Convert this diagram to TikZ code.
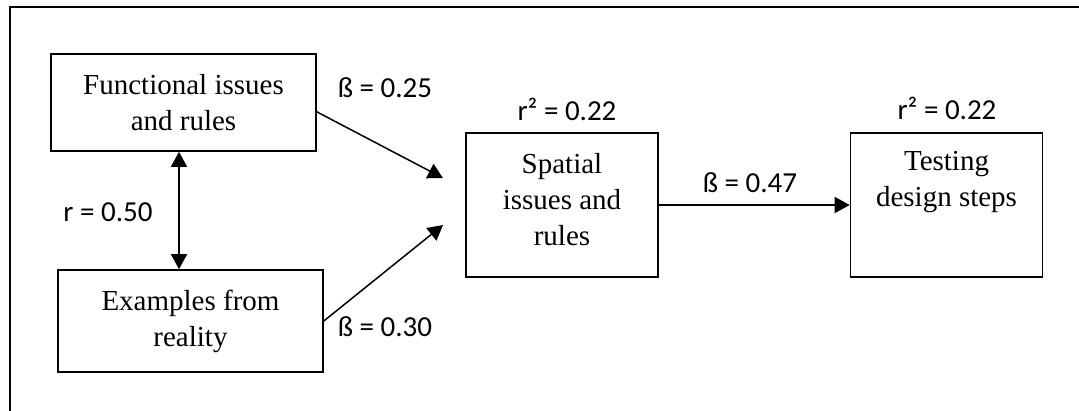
\documentclass[tikz,border=0pt]{standalone}
\usepackage{fontspec}
\setmainfont{Liberation Serif}
\newfontfamily\coeffont{Carlito}
\usetikzlibrary{arrows.meta,positioning}

\begin{document}
\begin{tikzpicture}[x=0.5pt,y=-0.5pt,font=\fontsize{14.5}{18}\selectfont]
        \tikzset{
            pathbox/.style={
                draw=black,
                fill=white,
                line width=0.8pt,
                inner sep=0pt,
                minimum width=132.5pt,
                minimum height=48.5pt,
                align=center
            },
            pathtall/.style={
                pathbox,
                minimum width=96pt,
                minimum height=72pt
            },
            coeflabel/.style={
                font=\coeffont\fontsize{14.5}{17}\selectfont,
                inner sep=0pt
            },
            pathdir/.style={
                -{Triangle[length=7.5pt,width=8pt]},
                draw=black,
                line width=0.75pt
            },
            pathcorr/.style={
                {Triangle[length=7.5pt,width=8pt]}-{Triangle[length=7.5pt,width=8pt]},
                draw=black,
                line width=0.75pt
            }
        }
        \useasboundingbox (0,0) rectangle (1079,411);

        % frame
        \draw[line width=0.8pt] (10,411) -- (10,7) -- (1079,7);

        \node[pathbox] (functional) at (183.5,102.5)
            {Functional issues\\and rules};
        \node[pathbox,minimum height=51pt] (examples) at (190.5,321)
            {Examples from\\reality};
        \node[pathtall] (spatial) at (562,205)
            {Spatial\\issues and\\rules\\[-12pt]\mbox{}};
        \node[pathtall] (testing) at (946.5,205)
            {Testing\\design steps\\~\\[-10pt]\mbox{}};

        \coordinate (spatialinA) at (443,178);
        \coordinate (spatialinB) at (443,225);

        \node[coeflabel] (betaA) at (385,88) {ß = 0.25};
        \node[coeflabel] (betaB) at (385,327) {ß = 0.30};
        \node[coeflabel] (betaC) at (750,183) {ß = 0.47};
        \node[coeflabel] (corr) at (108,212) {r = 0.50};
        \node[coeflabel] (rsqA) at (567,109) {r² = 0.22};
        \node[coeflabel] (rsqB) at (947,108) {r² = 0.22};

        \draw[pathdir] (functional.-4.5) -- (spatialinA);
        \draw[pathdir] (examples.east) -- (spatialinB);
        \draw[pathdir] (spatial.east) -- (testing.west);
        \draw[pathcorr] ([xshift=-2.25pt]functional.south) --
            ([xshift=-2.25pt]functional.south |- examples.north);
    \end{tikzpicture}
\end{document}
